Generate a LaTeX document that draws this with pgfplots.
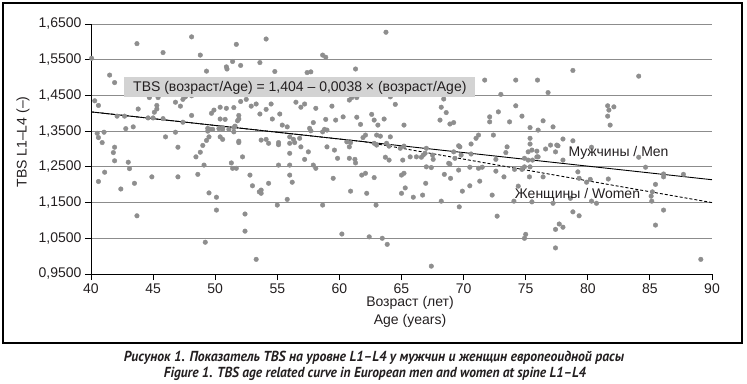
\documentclass[border=0pt]{standalone}
\usepackage{fontspec}
\setmainfont{Liberation Sans}
\newfontfamily\capfont{PT Sans}
\usepackage{graphicx}
\usepackage{pgfplots}
\pgfplotsset{compat=1.18}
\definecolor{ptgray}{HTML}{8E8E8E}
\definecolor{gridgray}{HTML}{8C8C8C}
\definecolor{boxgray}{HTML}{D3D3D3}
\definecolor{txt}{HTML}{231F20}
\pgfplotstableread{
x y
40.05 1.554
43.7 1.595
45.8 1.570
48.1 1.614
48.8 1.563
51.7 1.593
51.4 1.545
49.3 1.518
50.9 1.530
50.95 1.524
52.05 1.534
41.5 1.507
41.9 1.486
40.3 1.435
40.6 1.422
42.1 1.392
42.7 1.392
44.7 1.444
45.4 1.444
43.8 1.412
44.6 1.387
45.0 1.387
45.3 1.422
45.3 1.412
46.8 1.431
47.2 1.420
47.4 1.439
47.6 1.446
48.1 1.449
45.8 1.385
45.1 1.403
47.4 1.375
48.1 1.394
42.8 1.357
43.4 1.362
40.5 1.344
40.6 1.332
40.9 1.318
41.05 1.347
41.9 1.305
46.0 1.334
46.8 1.347
47.0 1.305
49.7 1.400
49.9 1.409
50.4 1.417
50.9 1.414
51.5 1.416
50.4 1.384
50.8 1.383
51.9 1.394
51.9 1.384
51.8 1.379
51.6 1.364
51.5 1.360
52.05 1.433
52.5 1.439
52.9 1.420
53.3 1.426
49.4 1.358
49.6 1.355
49.4 1.350
49.8 1.355
50.3 1.357
50.6 1.355
50.6 1.360
51.1 1.355
51.5 1.348
49.0 1.310
49.3 1.324
49.5 1.334
50.4 1.334
50.6 1.327
51.9 1.322
51.9 1.318
41.8 1.290
41.9 1.267
43.0 1.263
43.1 1.245
48.45 1.278
48.8 1.291
49.1 1.255
51.3 1.261
51.4 1.246
51.7 1.246
52.2 1.278
40.6 1.209
41.1 1.235
42.4 1.188
43.5 1.204
43.7 1.113
44.9 1.222
47.0 1.222
48.6 1.229
49.5 1.177
49.2 1.039
50.1 1.165
50.1 1.129
52.8 1.227
53.0 1.197
52.4 1.118
52.4 1.070
53.3 0.991
53.55 1.180
54.1 1.608
53.6 1.542
54.8 1.517
58.65 1.563
58.9 1.557
57.4 1.514
57.7 1.516
61.3 1.524
63.75 1.627
71.7 1.493
53.6 1.398
54.1 1.411
54.5 1.426
54.6 1.384
55.2 1.398
55.4 1.367
55.8 1.362
56.5 1.431
56.9 1.417
57.2 1.426
58.1 1.414
57.6 1.358
57.7 1.351
57.9 1.374
58.65 1.348
59.0 1.353
58.8 1.355
58.9 1.383
59.4 1.420
59.7 1.381
60.3 1.390
60.8 1.437
61.0 1.444
61.4 1.444
61.4 1.389
61.7 1.369
62.1 1.339
61.9 1.332
62.6 1.397
62.8 1.381
63.1 1.367
63.0 1.339
63.3 1.336
63.6 1.384
64.1 1.446
64.5 1.425
64.1 1.334
65.2 1.367
68.4 1.440
68.2 1.417
68.6 1.402
68.1 1.381
68.9 1.370
69.2 1.374
69.6 1.309
69.7 1.306
70.6 1.314
71.0 1.330
71.2 1.339
72.1 1.390
72.1 1.376
72.4 1.339
72.8 1.404
53.7 1.325
54.1 1.327
54.3 1.316
55.1 1.318
55.1 1.312
56.0 1.334
56.0 1.316
56.4 1.318
56.8 1.330
56.3 1.327
56.9 1.306
56.0 1.288
57.5 1.292
57.2 1.271
55.1 1.255
56.0 1.255
57.9 1.255
58.1 1.246
59.0 1.306
59.6 1.297
59.85 1.274
60.6 1.320
60.8 1.306
60.9 1.318
60.8 1.274
61.25 1.271
61.3 1.261
62.8 1.316
63.0 1.311
63.7 1.277
64.0 1.269
63.8 1.316
64.0 1.308
65.2 1.308
65.1 1.269
65.7 1.278
66.2 1.278
66.6 1.277
66.75 1.283
67.0 1.302
67.5 1.283
67.55 1.271
67.0 1.250
67.4 1.248
68.8 1.260
53.7 1.185
53.7 1.176
54.3 1.204
55.0 1.143
55.8 1.159
56.0 1.227
56.2 1.207
58.65 1.143
59.5 1.218
60.2 1.062
60.9 1.182
61.8 1.227
62.1 1.232
62.2 1.176
62.4 1.054
62.8 1.220
62.95 1.143
63.45 1.050
63.85 1.033
65.0 1.227
65.2 1.232
65.0 1.176
65.3 1.191
65.95 1.165
66.7 1.171
66.95 1.204
67.4 0.972
68.2 1.154
68.45 1.229
68.9 1.258
68.95 1.218
69.2 1.292
69.3 1.274
69.6 1.241
69.65 1.138
69.9 1.182
69.8 1.283
70.5 1.197
70.5 1.249
70.6 1.286
71.3 1.210
71.5 1.249
72.3 1.171
72.6 1.271
72.6 1.238
72.7 1.112
73.0 1.453
76.8 1.458
74.2 1.421
74.7 1.392
73.7 1.376
75.35 1.360
76.0 1.353
76.4 1.379
77.2 1.362
75.35 1.330
75.35 1.314
73.5 1.306
73.4 1.290
75.2 1.292
75.5 1.297
75.9 1.294
74.9 1.274
75.2 1.269
75.55 1.269
75.9 1.278
76.0 1.278
76.6 1.300
77.0 1.311
77.4 1.292
77.5 1.311
78.0 1.328
78.0 1.269
78.8 1.323
64.9 1.302
66.9 1.288
71.2 1.246
74.1 1.243
74.7 1.243
74.9 1.250
75.35 1.250
78.8 1.520
74.2 1.493
75.95 1.493
84.1 1.504
77.6 1.309
80.3 1.305
81.6 1.421
81.7 1.409
82.1 1.418
81.6 1.392
81.8 1.367
73.25 1.222
75.3 1.222
74.4 1.196
74.05 1.154
74.9 1.050
75.0 1.061
75.5 1.152
76.4 1.222
77.2 1.148
77.4 1.075
77.7 1.090
78.0 1.081
77.4 1.023
78.6 1.162
78.8 1.124
79.3 1.113
79.2 1.236
79.3 1.218
79.9 1.207
80.2 1.215
80.7 1.148
80.3 1.154
81.65 1.216
84.1 1.277
84.65 1.249
85.1 1.168
85.15 1.154
85.2 1.180
85.45 1.201
86.1 1.230
86.1 1.222
87.7 1.229
85.45 1.087
86.1 1.129
89.1 0.991
}\tbsdata
\begin{document}
\begin{tikzpicture}
\path[use as bounding box] (0bp,0bp) rectangle (747bp,-384bp);
\draw[line width=1.2bp, black] (3bp,-3bp) rectangle (742bp,-343bp);
\begin{axis}[
  at={(91bp,-274bp)}, anchor=south west,
  scale only axis, width=621bp, height=250bp,
  xmin=40, xmax=90, ymin=0.95, ymax=1.65,
  axis x line=bottom, axis y line=left,
  axis line style={-, black, line width=0.9bp},
  xtick={40,45,50,55,60,65,70,75,80,85,90},
  xticklabels={40,45,50,55,60,65,70,75,80,85,90},
  ytick={0.95,1.05,1.15,1.25,1.35,1.45,1.55,1.65},
  yticklabels={{0,9500},{1,0500},{1,1500},{1,2500},{1,3500},{1,4500},{1,5500},{1,6500}},
  tick align=outside, major tick length=6bp,
  tick style={black, line width=0.9bp},
  ymajorgrids, grid style={gridgray, line width=0.9bp},
  ticklabel style={font=\fontsize{14bp}{16bp}\selectfont, text=txt},
]
\addplot[only marks, mark=*, mark size=2.3bp, color=ptgray, mark options={fill=ptgray, draw=ptgray}] table {\tbsdata};
\addplot[black, line width=0.9bp, dash pattern=on 3bp off 2bp] coordinates {(40,1.404) (62,1.3204) (90,1.15)};
\addplot[black, line width=0.9bp] coordinates {(40,1.404) (90,1.214)};
\end{axis}
\fill[boxgray] (124bp,-77bp) rectangle (475bp,-97bp);
\node[anchor=west, inner sep=0pt, text=txt, font=\fontsize{14bp}{16bp}\selectfont] at (133bp,-87.5bp) {TBS (возраст/Age) = 1,404 – 0,0038 × (возраст/Age)};
\node[inner sep=0pt, text=txt, font=\fontsize{14bp}{16bp}\selectfont] at (618.5bp,-152.7bp) {Мужчины / Men};
\node[inner sep=0pt, text=txt, font=\fontsize{14bp}{16bp}\selectfont] at (577.5bp,-195bp) {Женщины / Women};
\node[inner sep=0pt, text=txt, font=\fontsize{14bp}{16bp}\selectfont] at (410bp,-303bp) {Возраст (лет)};
\node[inner sep=0pt, text=txt, font=\fontsize{14bp}{16bp}\selectfont] at (410bp,-321bp) {Age (years)};
\node[inner sep=0pt, text=txt, rotate=90, font=\fontsize{14bp}{16bp}\selectfont] at (23bp,-142bp) {TBS L1–L4 (–)};
\node[anchor=base, inner sep=0pt, text=txt] at (374bp,-361.7bp) {\resizebox{500bp}{\height}{\capfont\bfseries\itshape\fontsize{14.5bp}{16bp}\selectfont Рисунок 1. Показатель TBS на уровне L1–L4 у мужчин и женщин европеоидной расы}};
\node[anchor=base, inner sep=0pt, text=txt] at (375bp,-377.3bp) {\resizebox{422bp}{\height}{\capfont\bfseries\itshape\fontsize{14.5bp}{16bp}\selectfont Figure 1. TBS age related curve in European men and women at spine L1–L4}};
\end{tikzpicture}
\end{document}
